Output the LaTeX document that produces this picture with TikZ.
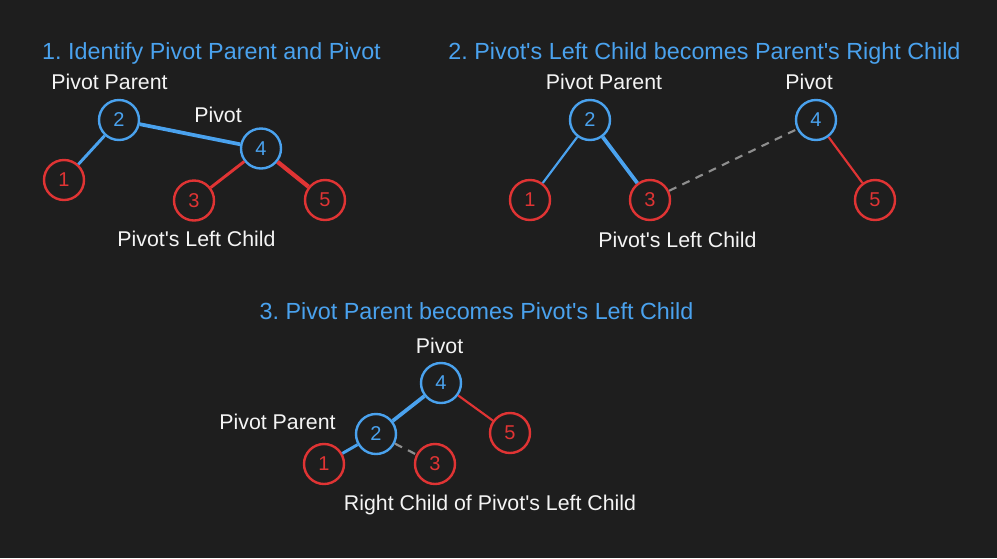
\documentclass[tikz,border=0pt]{standalone}
\usepackage{fontspec}
\setmainfont{Liberation Sans}
\definecolor{bg}{HTML}{1E1E1E}
\definecolor{eblue}{HTML}{4AA2EE}
\definecolor{ered}{HTML}{E03434}
\definecolor{etext}{HTML}{F4F4F4}
\definecolor{egray}{HTML}{8E8E8E}
\newcommand{\apo}{\textquotesingle}
\tikzset{
  bnode/.style={circle,draw=eblue,line width=1.8pt,minimum size=30pt,inner sep=0pt,text=eblue,font=\fontsize{15}{18}\selectfont},
  rnode/.style={circle,draw=ered,line width=1.8pt,minimum size=30pt,inner sep=0pt,text=ered,font=\fontsize{15}{18}\selectfont},
  ttl/.style={text=eblue,font=\fontsize{17.5}{21}\selectfont\frenchspacing,anchor=base,inner sep=0pt},
  lbl/.style={text=etext,font=\fontsize{16}{19}\selectfont\frenchspacing,anchor=base,inner sep=0pt},
  bthin/.style={draw=eblue,line width=1.6pt},
  bmid/.style={draw=eblue,line width=2.2pt},
  bthick/.style={draw=eblue,line width=2.8pt},
  rthin/.style={draw=ered,line width=1.6pt},
  rmid/.style={draw=ered,line width=2.2pt},
  rthick/.style={draw=ered,line width=3.2pt},
  gdash/.style={draw=egray,line width=1.6pt,dash pattern=on 6pt off 5pt}
}
\begin{document}
\begin{tikzpicture}[x=0.75pt,y=-0.75pt]
\fill[bg] (0,0) rectangle (997,558);
\useasboundingbox (0,0) rectangle (997,558);

% ---------- Panel 1 ----------
\node[ttl] (t1) at (211.5,59) {1. Identify Pivot Parent and Pivot};
\node[lbl] (l1a) at (109.5,89) {Pivot Parent};
\node[lbl] (l1b) at (218,122.5) {Pivot};
\node[lbl] (l1c) at (196.5,246.5) {Pivot\apo s Left Child};
\node[bnode] (a2) at (119,120) {2};
\node[bnode] (a4) at (261,148.5) {4};
\node[rnode] (a1) at (64,180) {1};
\node[rnode] (a3) at (194,200.5) {3};
\node[rnode] (a5) at (325,200) {5};
\draw[bmid] (a2) -- (a1);
\draw[bthick] (a2) -- (a4);
\draw[rmid] (a4) -- (a3);
\draw[rthick] (a4) -- (a5);

% ---------- Panel 2 ----------
\node[ttl] (t2) at (704.5,59) {2. Pivot\apo s Left Child becomes Parent\apo s Right Child};
\node[lbl] (l2a) at (604,89) {Pivot Parent};
\node[lbl] (l2b) at (809,89) {Pivot};
\node[lbl] (l2c) at (677.5,247) {Pivot\apo s Left Child};
\node[bnode] (b2) at (590,120) {2};
\node[bnode] (b4) at (816,120) {4};
\node[rnode] (b1) at (530,200) {1};
\node[rnode] (b3) at (650,200) {3};
\node[rnode] (b5) at (875,200) {5};
\draw[bthin] (b2) -- (b1);
\draw[bthick] (b2) -- (b3);
\draw[gdash] (b3) -- (b4);
\draw[rthin] (b4) -- (b5);

% ---------- Panel 3 ----------
\node[ttl] (t3) at (476.5,319) {3. Pivot Parent becomes Pivot\apo s Left Child};
\node[lbl] (l3a) at (439.5,353) {Pivot};
\node[lbl] (l3b) at (277.5,429) {Pivot Parent};
\node[lbl] (l3c) at (490,510) {Right Child of Pivot\apo s Left Child};
\node[bnode] (c4) at (441,383) {4};
\node[bnode] (c2) at (376,434) {2};
\node[rnode] (c5) at (510,433) {5};
\node[rnode] (c1) at (324,464) {1};
\node[rnode] (c3) at (435,464) {3};
\draw[bthick] (c4) -- (c2);
\draw[rthin] (c4) -- (c5);
\draw[bmid] (c2) -- (c1);
\draw[gdash] (c2) -- (c3);
\end{tikzpicture}
\end{document}
